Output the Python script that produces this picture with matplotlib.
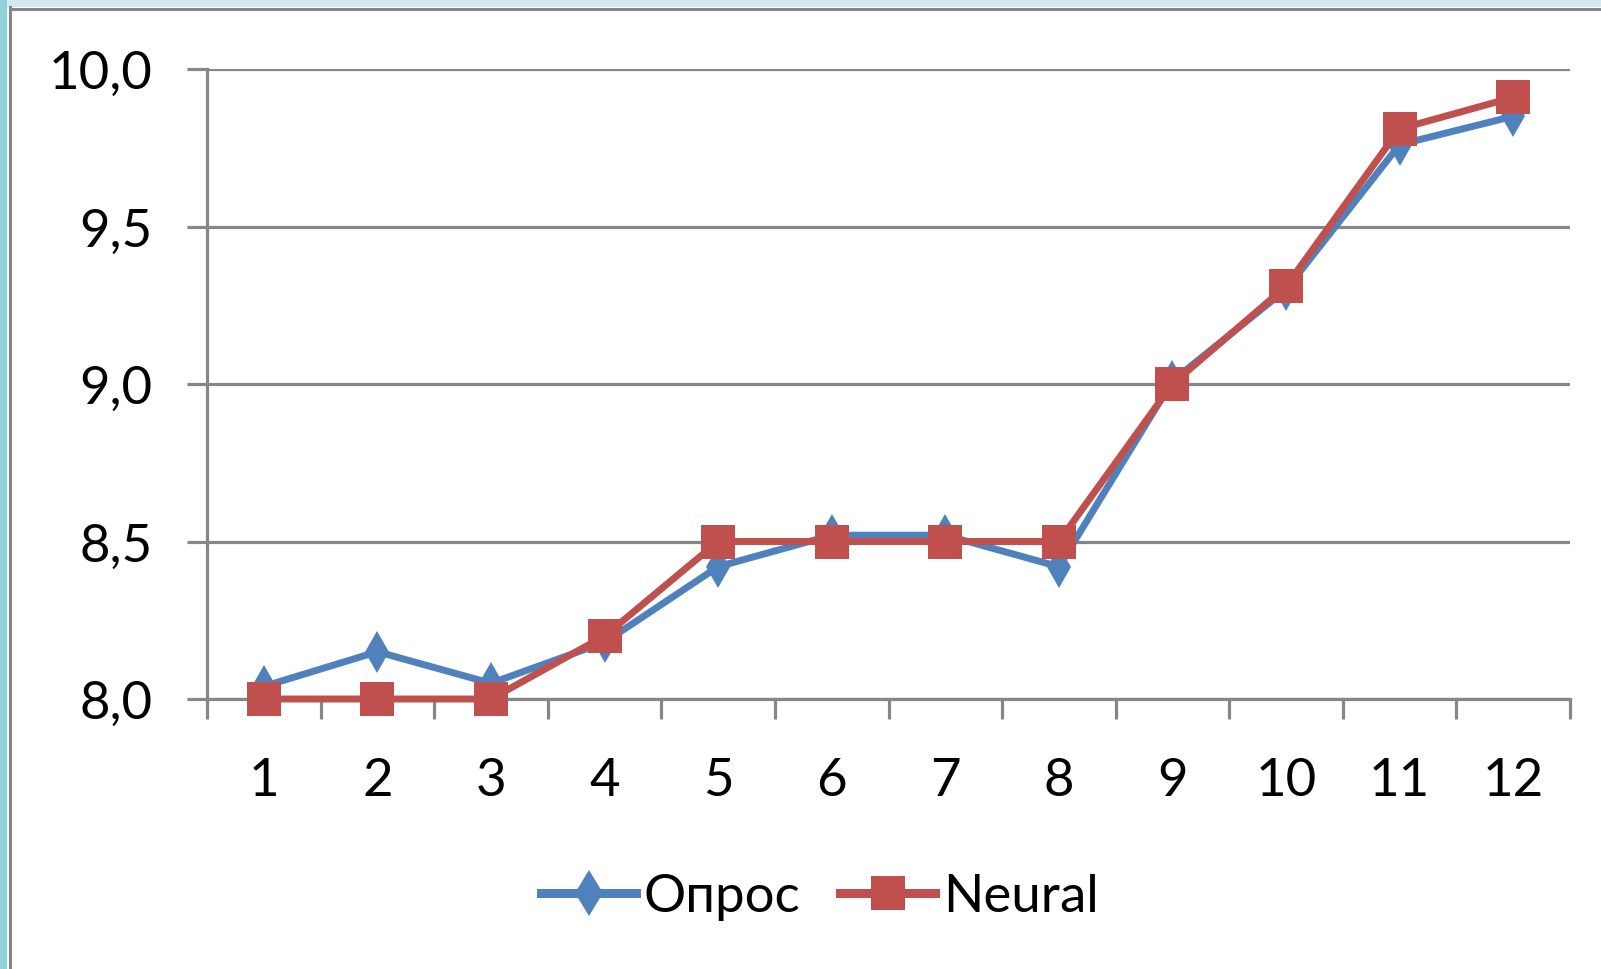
import matplotlib
matplotlib.use("Agg")
import matplotlib.pyplot as plt
from matplotlib.lines import Line2D
from matplotlib.patches import Rectangle
from matplotlib.ticker import FixedLocator

# ---------- data ----------
categories = [1, 2, 3, 4, 5, 6, 7, 8, 9, 10, 11, 12]
opros = [8.04, 8.15, 8.05, 8.18, 8.42, 8.52, 8.52, 8.42, 9.01, 9.30, 9.76, 9.85]
neural = [8.0, 8.0, 8.0, 8.2, 8.5, 8.5, 8.5, 8.5, 9.0, 9.31, 9.81, 9.91]
y_ticks = [8.0, 8.5, 9.0, 9.5, 10.0]
y_labels = ["8,0", "8,5", "9,0", "9,5", "10,0"]
series_names = ["Опрос", "Neural"]

BLUE = "#4F81BD"
RED = "#C0504D"
GRID = "#868686"
W, H = 1601, 970

plt.rcParams["font.family"] = ["Lato", "DejaVu Sans"]
fs = 38

fig = plt.figure(figsize=(W / 100, H / 100), dpi=100)
fig.patch.set_facecolor("white")

# excel-like chart frame (top + left edges visible)
fig.add_artist(Rectangle((0, 1 - 8 / H), 1, 8 / H, transform=fig.transFigure,
                         color="#D2E9EE", lw=0, zorder=0))
fig.add_artist(Rectangle((0, 0), 7 / W, 1, transform=fig.transFigure,
                         color="#93D1DE", lw=0, zorder=0))
fig.add_artist(Line2D([9.5 / W, 1], [1 - 9.5 / H, 1 - 9.5 / H], transform=fig.transFigure,
                      color=GRID, lw=2.2, zorder=1))
fig.add_artist(Line2D([9.5 / W, 9.5 / W], [0, 1 - 8 / H], transform=fig.transFigure,
                      color=GRID, lw=2.2, zorder=1))

ax = fig.add_axes([207 / W, 1 - 700 / H, (1570 - 207) / W, (700 - 70) / H])

ax.plot(categories, opros, color=BLUE, lw=5, marker="d", ms=21, mew=0,
        clip_on=False, zorder=3)
ax.plot(categories, neural, color=RED, lw=5, marker="s", ms=24, mew=0,
        clip_on=False, zorder=4)

ax.set_xlim(0.5, 12.5)
ax.set_ylim(8.0, 10.0)

ax.yaxis.set_major_locator(FixedLocator(y_ticks))
ax.set_yticklabels(y_labels)
ax.set_xticks(categories)
ax.set_xticklabels([str(c) for c in categories])
ax.xaxis.set_minor_locator(FixedLocator([c + 0.5 for c in [0] + categories]))

ax.grid(axis="y", color=GRID, lw=2.3, zorder=1)
ax.set_axisbelow(True)
for s in ["top", "right"]:
    ax.spines[s].set_visible(False)
for s in ["left", "bottom"]:
    ax.spines[s].set_color(GRID)
    ax.spines[s].set_linewidth(2.3)

ax.tick_params(axis="y", length=14.4, width=2.3, color=GRID, pad=25, labelsize=fs)
ax.tick_params(axis="x", which="major", length=0, pad=42, labelsize=fs)
ax.tick_params(axis="x", which="minor", length=14.4, width=2.3, color=GRID)

handles = [
    Line2D([], [], color=BLUE, lw=6.5, marker="d", ms=23, mew=0),
    Line2D([], [], color=RED, lw=6.5, marker="s", ms=24, mew=0),
]
fig.legend(handles, series_names, loc="center", bbox_to_anchor=(820 / W, 1 - 898 / H),
           ncol=2, frameon=False, fontsize=fs, handlelength=1.8, handletextpad=0.15,
           columnspacing=0.75, borderpad=0)

fig.savefig("out.png", dpi=100)
